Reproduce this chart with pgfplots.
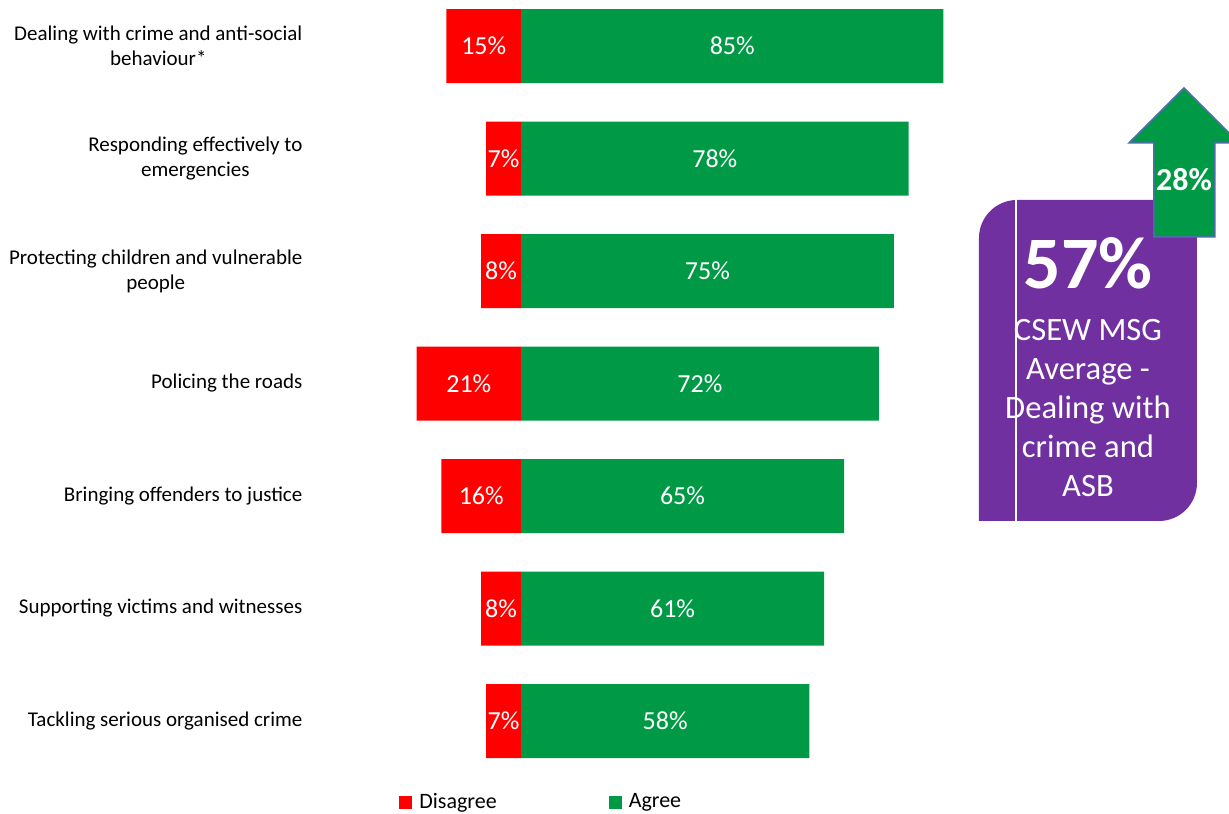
\documentclass[border=0pt]{standalone}
\usepackage{pgfplots}
\pgfplotsset{compat=1.18}
\usepackage{pgfplotstable}
\usepackage{fontspec}
\setmainfont{Carlito}
\definecolor{dgreen}{HTML}{009A46}
\definecolor{dred}{HTML}{FF0000}
\definecolor{purp}{HTML}{7030A0}
\definecolor{arrowedge}{HTML}{4A6FA5}

\pgfplotstableread{
idx dis agr
6 15 85
5 7 78
4 8 75
3 21 72
2 16 65
1 8 61
0 7 58
}\data

\begin{document}
\begin{tikzpicture}
\path[use as bounding box] (0,0) rectangle (614.5bp,-407bp);
\begin{axis}[
 at={(198.375bp,-388.625bp)}, anchor=south west,
 scale only axis, width=290.75bp, height=388.125bp,
 xmin=-25, xmax=92, ymin=-0.5, ymax=6.4,
 axis line style={draw=none},
 /pgf/number format/assume math mode=true,
 xtick=\empty, ytick={0,...,6},
 yticklabels={Tackling serious organised crime, Supporting victims and witnesses, Bringing offenders to justice, Policing the roads, {Protecting children and vulnerable\\people}, {Responding effectively to\\emergencies}, {Dealing with crime and anti-social\\behaviour*}},
 major tick length=0pt,
 yticklabel style={align=center, font=\fontsize{10.5bp}{12.6bp}\selectfont, inner sep=0pt, xshift=-47bp},
 clip=false,
 legend columns=2,
 legend image code/.code={\fill[#1] (0bp,-3.4bp) rectangle (6.5bp,3.1bp);},
 legend style={at={(axis description cs:0.0039,-0.032)}, anchor=west, draw=none, fill=none, inner sep=0pt,
   font=\fontsize{11bp}{13bp}\selectfont, nodes={inner sep=3.5bp},
   /tikz/every even column/.append style={column sep=52.5bp}},
]
\addplot[xbar, bar width=37bp, bar shift=0pt, fill=dred, draw=none] table[x expr=-\thisrow{dis}, y=idx]{\data};
\addlegendentry{Disagree}
\addplot[xbar, bar width=37bp, bar shift=0pt, fill=dgreen, draw=none] table[x=agr, y=idx]{\data};
\addlegendentry{Agree}
\addplot[forget plot, draw=none, mark=none, point meta=explicit,
  nodes near coords={\pgfmathprintnumber{\pgfplotspointmeta}\%},
  every node near coord/.append style={anchor=center, text=white, font=\fontsize{13bp}{15bp}\selectfont}]
  table[x expr=-\thisrow{dis}/2, y=idx, meta=dis]{\data};
\addplot[forget plot, draw=none, mark=none, point meta=explicit,
  nodes near coords={\pgfmathprintnumber{\pgfplotspointmeta}\%},
  every node near coord/.append style={anchor=center, text=white, font=\fontsize{13bp}{15bp}\selectfont}]
  table[x expr=\thisrow{agr}/2, y=idx, meta=agr]{\data};
\end{axis}
\begin{scope}[x=0.5bp, y=-0.5bp]
\fill[purp] (979,521) -- (979,238) arc[start angle=180, end angle=270, radius=38] -- (1197,200) -- (1197,483) arc[start angle=0, end angle=90, radius=38] -- cycle;
\draw[white, line width=1bp] (1016,200) -- (1016,521);
\filldraw[fill=dgreen, draw=arrowedge, line width=0.75bp] (1154,237) -- (1154,143) -- (1129,143) -- (1184,88) -- (1239,143) -- (1215,143) -- (1215,237) -- cycle;
\node[white, font=\fontsize{16bp}{19bp}\bfseries\selectfont] at (1184,180) {28\%};
\node[white, font=\fontsize{37bp}{44bp}\bfseries\selectfont] at (1088,263) {57\%};
\node[white, align=center, font=\fontsize{16.3bp}{19.5bp}\selectfont] at (1088,408) {CSEW MSG\\Average -\\Dealing with\\crime and\\ASB};
\end{scope}
\end{tikzpicture}
\end{document}
